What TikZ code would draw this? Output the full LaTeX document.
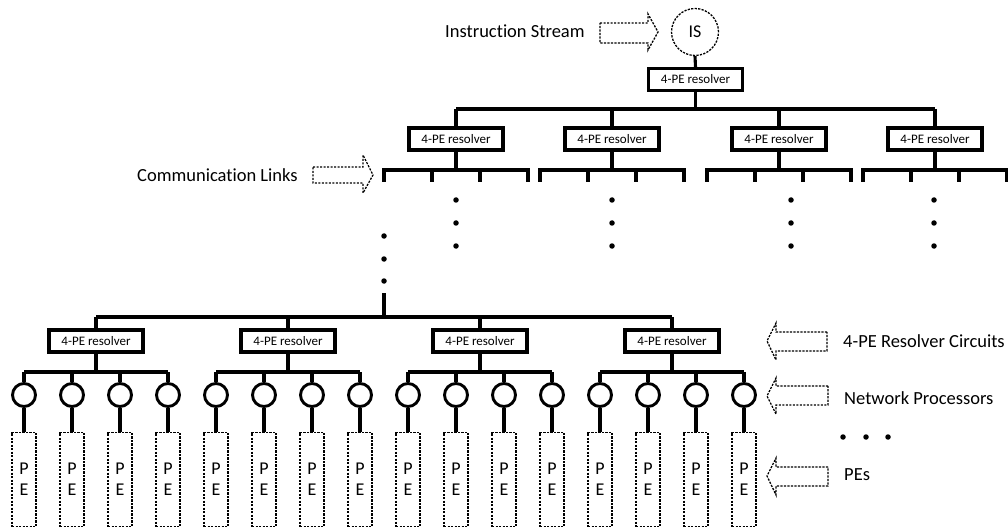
\documentclass[tikz,border=0pt]{standalone}
\usepackage{fontspec}
\setmainfont[Ligatures=NoCommon]{Carlito}
\usetikzlibrary{calc}
\begin{document}
\begin{tikzpicture}[x=1pt,y=-1pt,
  wire/.style={line width=3.1pt},
  res/.style={draw,line width=3.1pt,minimum width=94pt,minimum height=22pt,inner sep=0pt,font=\fontsize{13}{15}\selectfont},
  np/.style={draw,circle,line width=2.9pt,minimum size=23pt,inner sep=0pt},
  pe/.style={draw,line width=1.4pt,dash pattern=on 2.2pt off 1.3pt,minimum width=24pt,minimum height=94pt,inner sep=0pt,align=center,font=\fontsize{18}{21}\selectfont},
  lbl/.style={anchor=base west,inner sep=0pt,font=\fontsize{18.5}{22}\selectfont},
  barrow/.style={line width=1.3pt,dash pattern=on 2.2pt off 1.3pt},
  dot/.style={circle,fill,inner sep=0pt,minimum size=5.5pt}]
\useasboundingbox (0,0) rectangle (1008,529);

% instruction stream
\node[draw,circle,barrow,minimum size=47pt,inner sep=0pt,font=\fontsize{18}{21}\selectfont] (is) at (695,32) {IS};
\node[lbl] (lis) at (445,37.3) {Instruction Stream};
\draw[barrow] (600,23) -- (648,23) -- (648,14) -- (658,32) -- (648,50) -- (648,43) -- (600,43) -- cycle;

% top resolver
\node[res] (top) at (695.5,79.5) {4-PE resolver};
\draw[wire] (is.south) -- (top.north);
\coordinate (tb) at (695.5,109);
\draw[wire] (top.south) -- (tb);
\draw[wire] (456,109) -- (935,109);

% level-2 resolvers
\foreach \c/\n/\d in {456/a/456, 612/b/612, 779/c/791, 935/d/934}{
  \node[res] (r\n) at (\c,139) {4-PE resolver};
  \coordinate (u\n) at (\c,109);
  \coordinate (m\n) at (\c,170);
  \draw[wire] (u\n) -- (r\n.north);
  \draw[wire] (r\n.south) -- (m\n);
  \draw[wire] (\c-72,182) -- (\c-72,170) -- (\c+72,170) -- (\c+72,182);
  \draw[wire] (\c-24,170) -- (\c-24,182);
  \draw[wire] (\c+24,170) -- (\c+24,182);
  \node[dot] at (\d,200) {};
  \node[dot] at (\d,223) {};
  \node[dot] at (\d,246) {};
}

% communication links
\node[lbl] (lcl) at (137,181.7) {Communication Links};
\draw[barrow] (313,167) -- (363,167) -- (363,155) -- (373,175) -- (363,193) -- (363,183) -- (313,183) -- cycle;

% vertical ellipsis to bottom level
\node[dot] at (384,236) {};
\node[dot] at (384,259) {};
\node[dot] at (384,281) {};
\coordinate (vs) at (384,293);
\coordinate (vb) at (384,317);
\draw[wire] (vs) -- (vb);
\draw[wire] (96,317) -- (672,317);

% bottom level
\foreach \c/\n in {96/1, 288/2, 480/3, 672/4}{
  \node[res] (b\n) at (\c,341) {4-PE resolver};
  \coordinate (t\n) at (\c,317);
  \coordinate (s\n) at (\c,372);
  \draw[wire] (t\n) -- (b\n.north);
  \draw[wire] (b\n.south) -- (s\n);
  \draw[wire] (\c-72,372) -- (\c+72,372);
  \foreach \o/\k in {-72/1,-24/2,24/3,72/4}{
    \node[np] (n\n\k) at (\c+\o,395) {};
    \node[pe] (p\n\k) at (\c+\o,479.5) {P\\E};
    \draw[wire] (\c+\o,372) -- (n\n\k.north);
    \draw[wire] (n\n\k.south) -- (p\n\k.north);
  }
}

% right labels
\node[lbl] (lrc) at (843,347.3) {4-PE Resolver Circuits};
\draw[barrow] (827,332) -- (776,332) -- (776,323) -- (767,341) -- (776,360) -- (776,351) -- (827,351) -- cycle;
\node[lbl] (lnp) at (844,404) {Network Processors};
\draw[barrow] (828,386) -- (776,386) -- (776,378) -- (767,396) -- (776,414) -- (776,405) -- (828,405) -- cycle;
\node[dot] at (843,437) {};
\node[dot] at (866,437) {};
\node[dot] at (888,437) {};
\node[lbl] (lpe) at (844,480.7) {PEs};
\draw[barrow] (828,467) -- (776,467) -- (776,458) -- (767,476) -- (776,495) -- (776,486) -- (828,486) -- cycle;
\end{tikzpicture}
\end{document}
